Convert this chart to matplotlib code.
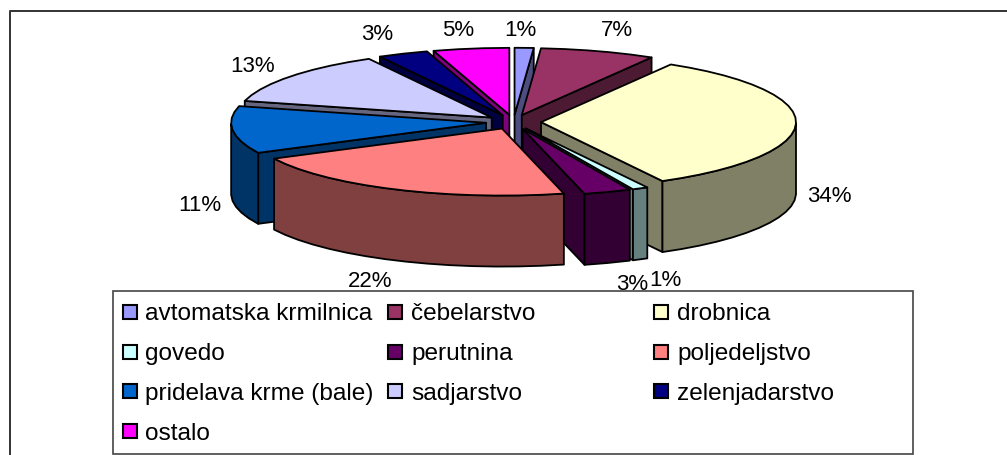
#!/usr/bin/env python3
"""Exploded 3D style pie with percent labels and a boxed legend."""
import matplotlib
matplotlib.use("Agg")
import matplotlib.pyplot as plt
from matplotlib.colors import to_rgb
from matplotlib.patches import Polygon, Rectangle
import numpy as np

categories = ["avtomatska krmilnica", "čebelarstvo", "drobnica", "govedo", "perutnina",
              "poljedeljstvo", "pridelava krme (bale)", "sadjarstvo", "zelenjadarstvo", "ostalo"]
shares = [1.2, 7.3, 33.6, 1, 3, 21.5, 11.4, 13, 3.2, 4.8]
colors = ["#9999FF", "#993366", "#FFFFCC", "#CCFFFF", "#660066",
          "#FF8080", "#0066CC", "#CCCCFF", "#000080", "#FF00FF"]

# pie geometry in pixels
CX, CY = 513.5, 123
RX, RY = 255, 67
EXPLODE = 0.108
DEPTH = 71

# back to front, indices into categories
draw_order = [0, 1, 9, 8, 7, 2, 6, 3, 4, 5]

# label centres in pixels, same order as categories
label_xy = [(520, 30), (617, 31), (829, 197), (665, 281), (632, 285),
            (370, 282), (200, 206), (253, 67), (377, 35), (458, 31)]
legend_cols = [(123, 145), (388, 411), (654, 677)]
legend_rows = [314, 354, 394, 434]

plt.rcParams["font.family"] = ["Liberation Sans", "DejaVu Sans"]

fig = plt.figure(figsize=(10.07, 4.56), dpi=100)
ax = fig.add_axes([0, 0, 1, 1])
ax.set_xlim(0, 1007)
ax.set_ylim(456, 0)
ax.axis("off")

# chart frame, cropped on the right and at the bottom
ax.plot([9.5, 9.5, 1007], [456, 12, 12], color="#333333", lw=1.4, zorder=1)

fracs = np.array(shares) / sum(shares) * 2 * np.pi
ends = np.cumsum(fracs)
starts = ends - fracs


def add_wall(points, color):
    pts = np.array(points)
    wall = np.vstack([pts, pts[::-1] + [0, DEPTH]])
    ax.add_patch(Polygon(wall, closed=True, facecolor=color, edgecolor="black",
                         lw=1.3, joinstyle="round", zorder=2))


for i in draw_order:
    mid = (starts[i] + ends[i]) / 2
    ox = CX + EXPLODE * RX * np.sin(mid)
    oy = CY - EXPLODE * RY * np.cos(mid)
    n = max(2, int(np.degrees(ends[i] - starts[i]) / 5) + 1)
    t = np.linspace(starts[i], ends[i], n)
    rim = np.column_stack([ox + RX * np.sin(t), oy - RY * np.cos(t)])
    apex = np.array([ox, oy])
    dark = tuple(c * 0.5 for c in to_rgb(colors[i]))

    # only faces turned towards the viewer get a wall
    if rim[0][0] < apex[0]:
        add_wall([apex, rim[0]], dark)
    if apex[0] < rim[-1][0]:
        add_wall([rim[-1], apex], dark)
    facing = [j for j in range(n - 1) if rim[j + 1][0] < rim[j][0]]
    if facing:
        add_wall(rim[facing[0]:facing[-1] + 2], dark)

    ax.add_patch(Polygon(np.vstack([apex, rim]), closed=True, facecolor=colors[i],
                         edgecolor="black", lw=1.3, joinstyle="round", zorder=2))

for share, (x, y) in zip(shares, label_xy):
    ax.text(x, y, f"{round(share)}%", fontsize=16, color="black", ha="center", va="center", zorder=5)

# legend box
ax.add_patch(Rectangle((113, 292), 800, 163, facecolor="white", edgecolor="#444444", lw=1.2, zorder=4))
for k, name in enumerate(categories):
    row, col = divmod(k, 3)
    sx, tx = legend_cols[col]
    y = legend_rows[row]
    ax.add_patch(Rectangle((sx, y - 8.5), 14, 14, facecolor=colors[k], edgecolor="black", lw=1.5, zorder=5))
    ax.text(tx, y, name, fontsize=17.6, color="black", ha="left", va="center", zorder=5)

fig.savefig("out.png", dpi=100)
